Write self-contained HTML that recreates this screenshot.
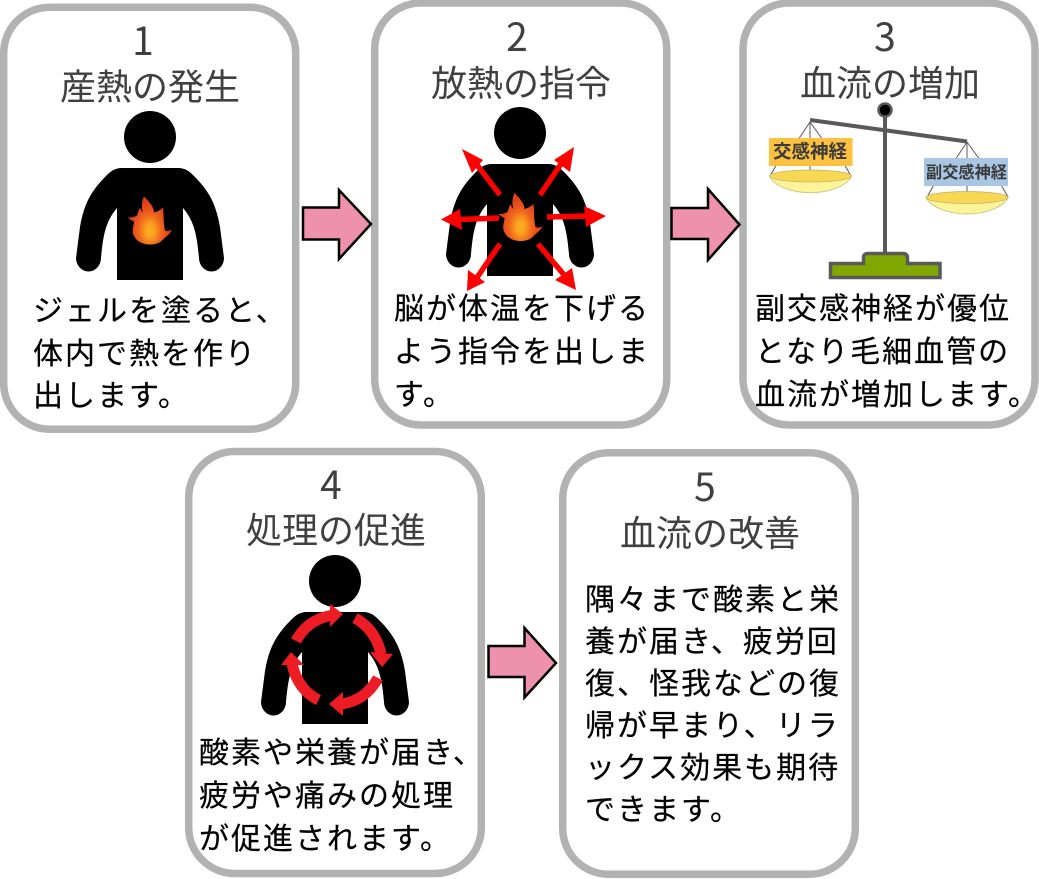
<!DOCTYPE html>
<html lang="ja"><head><meta charset="utf-8"><style>
html,body{margin:0;padding:0;background:#fff;width:1039px;height:879px;overflow:hidden}
svg{display:block}
text{font-family:"Liberation Sans","Noto Sans CJK JP",sans-serif}
.t{font-family:"Noto Sans CJK JP",sans-serif;font-size:36px;fill:#404040;text-anchor:middle;font-weight:400}
.n{font-family:"Noto Sans CJK JP",sans-serif;font-size:39px;fill:#404040;text-anchor:middle;font-weight:400}
.b{font-family:"Noto Sans CJK JP",sans-serif;font-size:30px;letter-spacing:2px;fill:#000;stroke:#000;stroke-width:.2}
.c{fill:#fff;stroke:#b2b2b2;stroke-width:7.5}
.a{fill:#ee91ae;stroke:#000;stroke-width:2.5}
.r{stroke:#f00;stroke-width:5.5;fill:none}
.s{stroke:#595959;stroke-width:1;fill:none}
.l{font-family:"Noto Sans CJK JP",sans-serif;font-weight:700;fill:#3a3a3a;text-anchor:middle}
</style></head><body>
<svg width="1039" height="879" viewBox="0 0 1039 879" xmlns="http://www.w3.org/2000/svg">
<defs>
<g id="p">
<circle cx="0" cy="0" r="26"/>
<path d="M0,31H28C36,31 40,35 44,39C58,53 66,66 70,90L74,121A12.500,13.500 0 0 1 49,121C47,100 45,85 33,71L33,143H-33L-33,71C-45,85 -47,100 -49,121A12.500,13.500 0 0 1 -74,121L-70,90C-66,66 -58,53 -44,39C-40,35 -36,31 -28,31Z"/>
</g>
<radialGradient id="fg" gradientUnits="userSpaceOnUse" cx="0" cy="10" r="24" gradientTransform="translate(0,10) scale(.8,1.15) translate(0,-10)">
<stop offset="0" stop-color="#fbb01f"/><stop offset=".25" stop-color="#f9a020"/><stop offset=".6" stop-color="#f0641c"/><stop offset="1" stop-color="#e2401a"/>
</radialGradient>
<path id="f" fill="url(#fg)" d="M-6,-24C-2,-20 4,-14 4,-8C7,-9 10,-10 13,-13C14,-6 13,0 15,10C17,11 19,11 22,9C20,14 16,16 14,18C10,23 5,24 0,24C-8,24 -15,20 -17,13C-18,8 -16,5 -16,1C-18,0 -20,-1 -22,-3C-19,-3 -16,-3 -13,-5C-12,-8 -11,-11 -10,-13C-9,-10 -8,-9 -7,-8C-9,-13 -8,-20 -6,-24Z"/>
</defs>

<rect class="c" x="3.700" y="7.200" width="292" height="422" rx="46"/>
<rect class="c" x="374.700" y="3" width="292" height="422" rx="46"/>
<rect class="c" x="743" y="3" width="292" height="422" rx="46"/>
<rect class="c" x="188.700" y="451.500" width="292.600" height="422" rx="46"/>
<rect class="c" x="562.700" y="452.700" width="292.600" height="421.600" rx="46"/>

<polygon class="a" points="303,207.500 339,207.500 339,190 371,224 339,259 339,239.500 303,239.500"/>
<polygon class="a" points="671.500,208 708,208 708,189 739.500,224.500 708,260 708,239 671.500,239"/>
<polygon class="a" points="488.500,646 524.500,646 524.500,628 556,663 524.500,697.500 524.500,677 488.500,677"/>

<text class="n" x="143" y="55">1</text>
<text class="t" x="150" y="99.500">産熱の発生</text>
<text class="n" x="517" y="51">2</text>
<text class="t" x="521" y="96">放熱の指令</text>
<text class="n" x="885" y="51">3</text>
<text class="t" x="890" y="96">血流の増加</text>
<text class="n" x="331" y="499">4</text>
<text class="t" x="336" y="543">処理の促進</text>
<text class="n" x="705" y="501">5</text>
<text class="t" x="710" y="546">血流の改善</text>

<use href="#p" x="150" y="137"/>
<use href="#f" x="150" y="220.500"/>

<use href="#p" x="520" y="133"/>
<use href="#f" x="520.500" y="217"/>
<g class="r">
<path d="M500,195L474,161"/><path d="M540,195L563,161"/>
<path d="M499,218L458,219.500"/><path d="M547,217L588,216"/>
<path d="M500,244L476,279"/><path d="M538,244L565,276"/>
</g>
<g fill="#f00">
<polygon points="462,149 483,160 472,173"/>
<polygon points="574,147 570,172 554,160"/>
<polygon points="441,219.500 460,209 462,230"/>
<polygon points="606,216 584,206 586,227"/>
<polygon points="467,291 468,270 485,282"/>
<polygon points="576,290 555,280 572,268"/>
</g>

<use href="#p" x="335" y="581"/>
<g fill="none" stroke="#ed1c24" stroke-width="11">
<path d="M296,641Q307,620 331,615.500"/>
<path d="M355,618Q376,630 381,654"/>
<path d="M378,678Q366,700 342,704"/>
<path d="M318.500,700Q298,690 292,664"/>
</g>
<g fill="#ed1c24">
<polygon points="343,614 330,604 330,627"/>
<polygon points="382,667 370,652 393,654"/>
<polygon points="329,704 343,692 343,716"/>
<polygon points="291,652 281,665 304,665"/>
</g>

<!-- balance -->
<line x1="885" y1="110" x2="885" y2="254" stroke="#595959" stroke-width="4"/>
<line x1="810" y1="120" x2="967" y2="141.500" stroke="#595959" stroke-width="4"/>
<circle cx="885" cy="110" r="6.500" fill="#000" stroke="#595959" stroke-width="2.500"/>
<path class="s" d="M810,122L798,140M810,122L823,140M810,122V140M770,176L778,162M851,176L843,162M810,162V172"/>
<path class="s" d="M967,142L955,160M967,142L980,160M967,142V160M927,197L935,183M1008,197L1000,183M967,183V193"/>
<path d="M769.500,176C773,185 790,192.700 810.500,192.700C831,192.700 848,185 851.500,176Z" fill="#fdf49a" stroke="#c9c98a" stroke-width="1"/>
<ellipse cx="810.500" cy="176" rx="41" ry="6" fill="#f8d752" stroke="#bfb070" stroke-width=".7"/>
<path d="M926,197.500C930,206 946,214 967,214C988,214 1004,206 1008,197.500Z" fill="#fdf49a" stroke="#c9c98a" stroke-width="1"/>
<ellipse cx="967" cy="197.500" rx="41" ry="6" fill="#f8d752" stroke="#bfb070" stroke-width=".7"/>
<rect x="769" y="138" width="83.500" height="28" fill="#fcc13e"/>
<text class="l" x="810" y="158" font-size="18.500">交感神経</text>
<rect x="924" y="158" width="84" height="28" fill="#a9c6e3"/>
<text class="l" x="966.500" y="178" font-size="16.200">副交感神経</text>
<path d="M830.500,277.500V263.500H863.500V258Q863.500,253.500 868,253.500H903Q907.500,253.500 907.500,258V263.500H940V277.500Z" fill="#80a800" stroke="#595959" stroke-width="3.500"/>

<text class="b" x="33" y="321">ジェルを塗ると、</text>
<text class="b" x="33" y="364">体内で熱を作り</text>
<text class="b" x="33" y="406">出します。</text>

<text class="b" x="394" y="319">脳が体温を下げる</text>
<text class="b" x="394" y="362">よう指令を出しま</text>
<text class="b" x="394" y="405">す。</text>

<text class="b" x="755" y="319">副交感神経が優位</text>
<text class="b" x="755" y="362">となり毛細血管の</text>
<text class="b" x="755" y="405">血流が増加します。</text>

<text class="b" x="199" y="763">酸素や栄養が届き、</text>
<text class="b" x="199" y="806">疲労や痛みの処理</text>
<text class="b" x="199" y="849">が促進されます。</text>

<text class="b" x="585" y="610">隅々まで酸素と栄</text>
<text class="b" x="585" y="652">養が届き、疲労回</text>
<text class="b" x="585" y="694">復、怪我などの復</text>
<text class="b" x="585" y="736">帰が早まり、リラ</text>
<text class="b" x="585" y="778">ックス効果も期待</text>
<text class="b" x="585" y="820">できます。</text>
</svg>
</body></html>
